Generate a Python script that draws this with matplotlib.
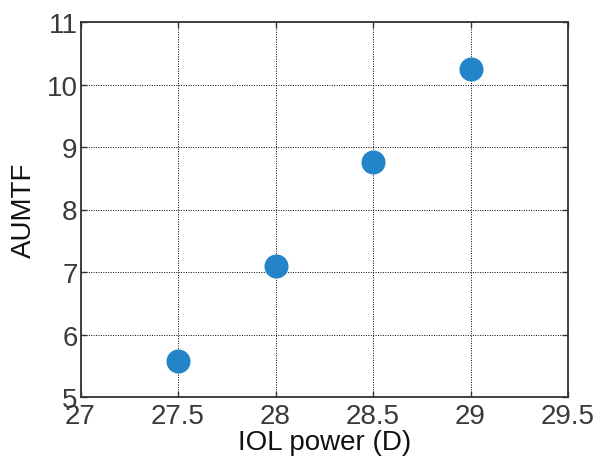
import matplotlib
matplotlib.use("Agg")
import matplotlib.pyplot as plt

# ── DATA ──────────────────────────────────────────────────────────────────────
iol_power = [27.5, 28.0, 28.5, 29.0]
aumtf = [5.57, 7.10, 8.76, 10.25]
x_ticks = [27, 27.5, 28, 28.5, 29, 29.5]
x_tick_labels = ["27", "27.5", "28", "28.5", "29", "29.5"]
y_ticks = [5, 6, 7, 8, 9, 10, 11]

plt.rcParams['font.family'] = ['Liberation Sans', 'DejaVu Sans']

fig = plt.figure(figsize=(5.97, 4.6), dpi=100)
ax = fig.add_axes([80.5 / 597, 62 / 460, (568 - 80.5) / 597, (398 - 23) / 460])

ax.scatter(iol_power, aumtf, s=300, color='#2384C8', zorder=3, linewidths=0)

ax.set_xlim(27, 29.5)
ax.set_ylim(5, 11)
ax.set_xticks(x_ticks)
ax.set_xticklabels(x_tick_labels)
ax.set_yticks(y_ticks)

ax.grid(True, color='black', linestyle=(0, (1, 1.5)), linewidth=0.7)
ax.set_axisbelow(True)

for s in ax.spines.values():
    s.set_color('#333333')
    s.set_linewidth(1.3)

ax.tick_params(direction='in', length=4, width=1, colors='#333333',
               labelsize=20, labelcolor='#3a3a3a', top=True, right=True)
ax.tick_params(axis='x', pad=4)
ax.tick_params(axis='y', pad=2)
ax.set_xlabel("IOL power (D)", fontsize=20, color='#111111', labelpad=0)
ax.set_ylabel("AUMTF", fontsize=20, color='#111111', labelpad=7)

plt.savefig("out.png", dpi=100)
